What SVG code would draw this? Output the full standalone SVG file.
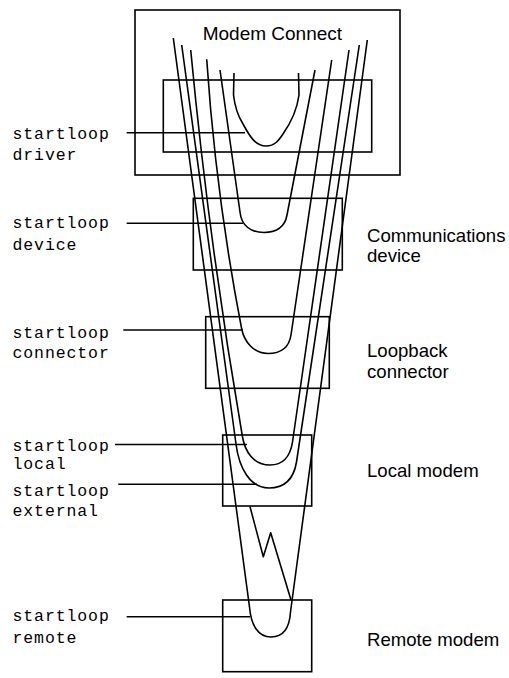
<svg xmlns="http://www.w3.org/2000/svg" width="509" height="678" viewBox="0 0 509 678">
<style>
.box{fill:none;stroke:#000;stroke-width:1.6}
.ln{fill:none;stroke:#000;stroke-width:1.6;stroke-linejoin:round}
.mono{font-family:"Courier New","Liberation Mono",monospace;font-size:16.5px;letter-spacing:0.9px;fill:#000}
.sans{font-family:"Liberation Sans",Arial,Helvetica,sans-serif;font-size:18.6px;fill:#000}
</style>
<rect width="509" height="678" fill="#fff"/>
<g id="modem-connect">
<rect class="box" x="135" y="10" width="265" height="165"/>
<text class="sans" x="202.7" y="40" style="font-size:19px">Modem Connect</text>
</g>
<g id="driver">
<rect class="box" x="163.3" y="80" width="208.4" height="72"/>
<text class="mono" x="12.5" y="139">startloop</text>
<text class="mono" x="12.5" y="160">driver</text>
</g>
<g id="device">
<rect class="box" x="193.3" y="198.3" width="149" height="71.7"/>
<text class="mono" x="12.5" y="228.3">startloop</text>
<text class="mono" x="12.5" y="250">device</text>
<text class="sans" x="367" y="241.7">Communications</text>
<text class="sans" x="367" y="261.7">device</text>
</g>
<g id="connector">
<rect class="box" x="205.7" y="316.7" width="123.6" height="71.6"/>
<text class="mono" x="12.5" y="338.3">startloop</text>
<text class="mono" x="12.5" y="358.3">connector</text>
<text class="sans" x="367" y="357.3">Loopback</text>
<text class="sans" x="367" y="378.3">connector</text>
</g>
<g id="local">
<rect class="box" x="222.7" y="435" width="89" height="71"/>
<text class="mono" x="12.5" y="450.7">startloop</text>
<text class="mono" x="12.5" y="469.3">local</text>
<text class="mono" x="12.5" y="495.7">startloop</text>
<text class="mono" x="12.5" y="516">external</text>
<text class="sans" x="367" y="476.7">Local modem</text>
</g>
<g id="remote">
<rect class="box" x="222.7" y="600" width="89" height="71.7"/>
<text class="mono" x="12.5" y="621">startloop</text>
<text class="mono" x="12.5" y="643">remote</text>
<text class="sans" x="367" y="645.7">Remote modem</text>
</g>
<g id="connectors">
<path class="ln" d="M234,73 L233.5,95 C235,108 238,116 243,124 C249,135 255,146 266,146 C275,146 279,140 283,134 C290,124 297,110 299,95 L298.5,73"/>
<path class="ln" d="M220,70 L240,212 C241.5,226 251,232.5 264,232.5 C276,232.5 285,227 287,215 L315,70"/>
<path class="ln" d="M206.7,59.3 Q215.8,195 241.5,328 C244,342 254,353.5 268,353.5 C281,353.5 289,348 291,335 L331.7,60"/>
<path class="ln" d="M190.7,50 Q209,243.5 242.5,437 C245,451 253,465 270,465 C282,465 290,458 292.5,442 L349,50"/>
<path class="ln" d="M181.7,45 L236,444 C239,468 250,488 269,488 C286,488 294,477 296.5,462 L359.3,45"/>
<path class="ln" d="M173.3,38 L249.5,607 C251,625 258,637 271,637 C283,637 289.5,628 290.5,612 L367.3,40"/>
<path class="ln" d="M250,506.7 L263.3,556.7 L270.7,532.7 L291,600"/>
<line class="ln" x1="126.7" y1="132.7" x2="245" y2="132.7"/>
<line class="ln" x1="126.7" y1="223.3" x2="243" y2="223.3"/>
<line class="ln" x1="123.3" y1="330" x2="243" y2="330"/>
<line class="ln" x1="115" y1="444.5" x2="247" y2="444.5"/>
<line class="ln" x1="118.3" y1="484.3" x2="257" y2="484.3"/>
<line class="ln" x1="126.7" y1="616.7" x2="250" y2="616.7"/>
</g>
</svg>
